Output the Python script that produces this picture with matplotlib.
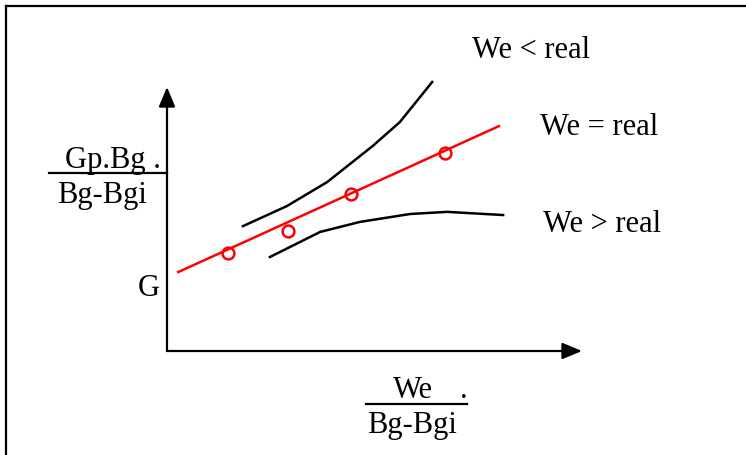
import matplotlib
matplotlib.use("Agg")
import matplotlib.pyplot as plt
from matplotlib.lines import Line2D

plt.rcParams['font.family'] = ['Liberation Serif', 'DejaVu Serif']

# data (arbitrary units, origin at the axes corner)
line_x = [0.27, 8.0]
line_y = [2.99, 8.52]
pts_x = [1.47, 2.92, 4.43, 6.70]
pts_y = [3.71, 4.55, 5.95, 7.50]
upper_x = [1.83, 2.89, 3.86, 4.96, 5.61, 6.39]
upper_y = [4.73, 5.49, 6.40, 7.77, 8.67, 10.19]
lower_x = [2.48, 3.69, 4.65, 5.86, 6.75, 8.10]
lower_y = [3.56, 4.51, 4.89, 5.19, 5.27, 5.15]
labels = ['We < real', 'We = real', 'We > real']
label_pos = [(7.35, 11.14), (8.99, 8.22), (9.06, 4.55)]
g_level = 6.74

W, H = 746, 456
fig = plt.figure(figsize=(W / 100, H / 100), dpi=100)
ax = fig.add_axes([167 / W, 104 / H, 415 / W, 264 / H])
ax.set_xlim(0, 10)
ax.set_ylim(0, 10)
ax.axis('off')

# frame (only left and top edges visible)
fig.add_artist(Line2D([6 / W, 6 / W], [0, 1 - 7 / H], color='k', lw=1.6,
                      transform=fig.transFigure))
fig.add_artist(Line2D([6 / W, 1], [1 - 7 / H, 1 - 7 / H], color='k', lw=1.6,
                      transform=fig.transFigure))

# arrows for axes
arrow = dict(arrowstyle='-|>,head_length=0.6,head_width=0.25', color='k',
             lw=1.6, mutation_scale=20, shrinkA=0, shrinkB=0)
ax.annotate('', xy=(1, 0), xytext=(0, 0), xycoords='axes fraction',
            arrowprops=arrow)
ax.annotate('', xy=(0, 1), xytext=(0, 0), xycoords='axes fraction',
            arrowprops=arrow)

# curves
ax.plot(line_x, line_y, color='red', lw=1.8, clip_on=False)
ax.plot(pts_x, pts_y, 'o', mfc='none', mec='red', mew=1.8, ms=8.5, clip_on=False)
ax.plot(upper_x, upper_y, color='k', lw=1.8, clip_on=False)
ax.plot(lower_x, lower_y, color='k', lw=1.8, clip_on=False)

fs = 22
for txt, (x, y) in zip(labels, label_pos):
    ax.text(x, y, txt, fontsize=fs, ha='left', va='baseline')

# y label fraction
ax.plot([-2.84, 0], [g_level, g_level], color='k', lw=1.6, clip_on=False)
ax.text(-2.46, 6.97, 'Gp.Bg .', fontsize=fs, ha='left', va='baseline')
ax.text(-2.65, 5.64, 'Bg-Bgi', fontsize=fs, ha='left', va='baseline')
ax.text(-0.70, 2.12, 'G', fontsize=fs, ha='left', va='baseline')

# x label fraction
ax.plot([4.80, 7.23], [-2.01, -2.01], color='k', lw=1.6, clip_on=False)
ax.text(5.45, -1.74, 'We', fontsize=fs, ha='left', va='baseline')
ax.text(7.06, -1.74, '.', fontsize=fs, ha='left', va='baseline')
ax.text(4.82, -3.07, 'Bg-Bgi', fontsize=fs, ha='left', va='baseline')

fig.savefig('out.png', dpi=100)
